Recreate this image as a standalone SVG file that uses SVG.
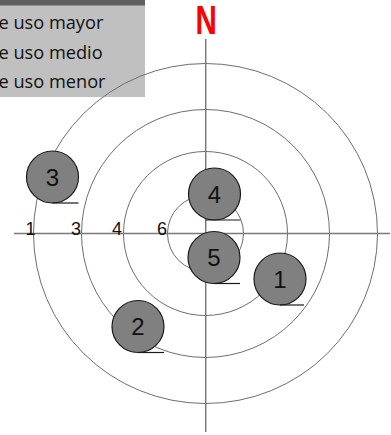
<svg xmlns="http://www.w3.org/2000/svg" width="391" height="435" viewBox="0 0 391 435">
<style>
.ring{fill:none;stroke:#6e6e6e;stroke-width:1}
.axis{stroke:#7a7a7a;stroke-width:1.5}
.node circle{fill:#808080;stroke:#1a1a1a;stroke-width:1.2}
.node line{stroke:#1a1a1a;stroke-width:1.2}
.nlabel{font-family:"Liberation Sans",Arial,sans-serif;font-size:24px;fill:#111;text-anchor:middle}
.alabel{font-family:"Liberation Sans",Arial,sans-serif;font-size:18px;fill:#111}
.leg{font-family:"Open Sans","Noto Sans",sans-serif;font-size:18.2px;fill:#111}
</style>
<rect width="391" height="435" fill="#fff"/>
<g id="legend">
<rect x="0" y="0" width="145" height="97" fill="#c0c0c0"/>
<rect x="0" y="0" width="145" height="5.5" fill="#5f5f5f"/>
<text class="leg" x="-1.5" y="29">e uso mayor</text>
<text class="leg" x="-1.5" y="58.5">e uso medio</text>
<text class="leg" x="-1.5" y="88">e uso menor</text>
</g>
<g id="rings">
<ellipse class="ring" cx="205.5" cy="233.5" rx="172" ry="170"/>
<circle class="ring" cx="205.5" cy="233.5" r="124"/>
<circle class="ring" cx="205.5" cy="233.5" r="82"/>
<circle class="ring" cx="205.5" cy="233.5" r="38"/>
</g>
<g id="connectors">
<line class="axis" x1="14" y1="233.5" x2="390" y2="233.5"/>
<line class="axis" x1="205.7" y1="39" x2="205.7" y2="432"/>
</g>
<g id="axis-labels">
<text class="alabel" x="25.5" y="235">1</text>
<text class="alabel" x="71" y="235">3</text>
<text class="alabel" x="112" y="235">4</text>
<text class="alabel" x="157" y="235">6</text>
</g>
<g id="north">
<text x="0" y="34" transform="translate(195.5,0) scale(0.74,1)" font-family="'Liberation Sans',Arial,sans-serif" font-weight="bold" font-size="40" fill="#ff0000">N</text>
</g>
<g id="node3" class="node">
<circle cx="52.5" cy="177" r="26"/>
<line x1="52.5" y1="203" x2="78.5" y2="203"/>
<text class="nlabel" x="52.5" y="185.5">3</text>
</g>
<g id="node4" class="node">
<circle cx="214.5" cy="194" r="26"/>
<line x1="205.7" y1="220" x2="240.5" y2="220"/>
<text class="nlabel" x="214.5" y="202.5">4</text>
</g>
<g id="node5" class="node">
<circle cx="214" cy="257.5" r="26"/>
<line x1="214" y1="283.5" x2="240" y2="283.5"/>
<text class="nlabel" x="214" y="266">5</text>
</g>
<g id="node1" class="node">
<circle cx="280" cy="279" r="26"/>
<line x1="280" y1="305" x2="304" y2="305"/>
<text class="nlabel" x="280" y="287.5">1</text>
</g>
<g id="node2" class="node">
<circle cx="138" cy="326.5" r="26"/>
<line x1="138" y1="352.5" x2="164" y2="352.5"/>
<text class="nlabel" x="138" y="335">2</text>
</g>
</svg>
